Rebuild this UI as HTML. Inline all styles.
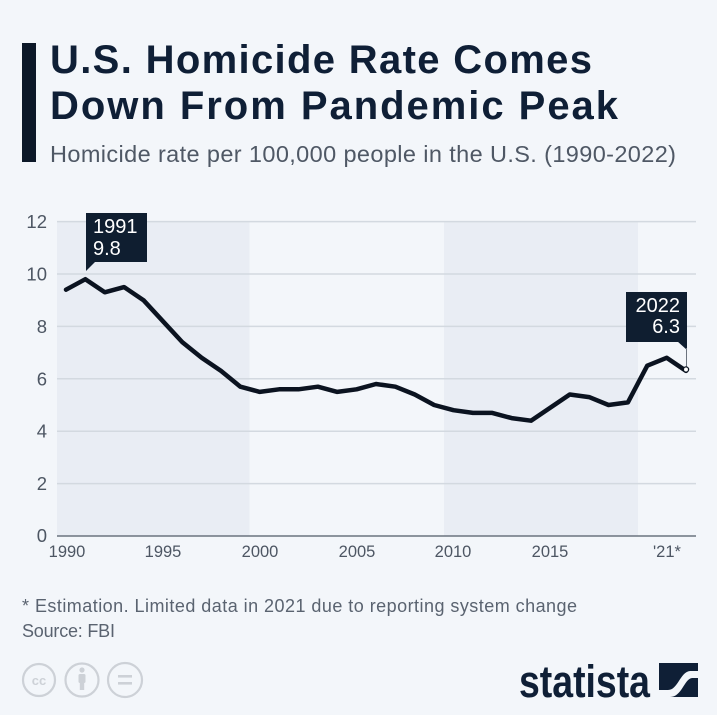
<!DOCTYPE html>
<html><head><meta charset="utf-8"><style>
html,body{margin:0;padding:0;background:#fff;}
svg{display:block;}
</style></head><body>
<svg width="720" height="720" viewBox="0 0 720 720" xmlns="http://www.w3.org/2000/svg">
<rect x="0" y="0" width="717" height="715" fill="#f3f6fa"/>
<!-- title -->
<rect x="22" y="43" width="14" height="119" fill="#0c1828"/>
<g font-family="Liberation Sans, sans-serif">
<text x="50" y="73" font-size="40" font-weight="bold" fill="#0f1f36" textLength="542" lengthAdjust="spacing">U.S. Homicide Rate Comes</text>
<text x="50" y="119" font-size="40" font-weight="bold" fill="#0f1f36" textLength="568" lengthAdjust="spacing">Down From Pandemic Peak</text>
<text x="50" y="162" font-size="23.5" fill="#4f5865" textLength="626" lengthAdjust="spacing">Homicide rate per 100,000 people in the U.S. (1990-2022)</text>
</g>
<!-- bands -->
<rect x="57" y="221.6" width="192.5" height="314.4" fill="#e9edf4"/>
<rect x="444" y="221.6" width="194" height="314.4" fill="#e9edf4"/>
<!-- gridlines -->
<g stroke="#d3d9e0" stroke-width="1.5">
<line x1="57" y1="221.6" x2="696" y2="221.6"/>
<line x1="57" y1="274" x2="696" y2="274"/>
<line x1="57" y1="326.4" x2="696" y2="326.4"/>
<line x1="57" y1="378.8" x2="696" y2="378.8"/>
<line x1="57" y1="431.2" x2="696" y2="431.2"/>
<line x1="57" y1="483.6" x2="696" y2="483.6"/>
</g>
<line x1="57" y1="536" x2="696" y2="536" stroke="#6b737e" stroke-width="1.5"/>
<!-- y labels -->
<g font-family="Liberation Sans, sans-serif" font-size="18.5" fill="#4d5663" text-anchor="end">
<text x="47" y="228">12</text>
<text x="47" y="280.5">10</text>
<text x="47" y="333">8</text>
<text x="47" y="385.5">6</text>
<text x="47" y="437.5">4</text>
<text x="47" y="490">2</text>
<text x="47" y="542">0</text>
</g>
<!-- x labels -->
<g font-family="Liberation Sans, sans-serif" font-size="16.5" fill="#4d5663" text-anchor="middle">
<text x="67" y="557">1990</text>
<text x="163" y="557">1995</text>
<text x="260" y="557">2000</text>
<text x="357" y="557">2005</text>
<text x="453" y="557">2010</text>
<text x="550" y="557">2015</text>
<text x="667" y="557">'21*</text>
</g>
<!-- line -->
<polyline fill="none" stroke="#0b1320" stroke-width="4.5" stroke-linejoin="round" stroke-linecap="round"
points="66,289.7 85.375,279.2 104.75,292.3 124.125,287.1 143.5,300.2 162.875,321.2 182.25,342.1 201.625,357.8 221,370.9 240.375,386.7 259.75,391.9 279.125,389.3 298.5,389.3 317.875,386.7 337.25,391.9 356.625,389.3 376,384 395.375,386.7 414.75,394.5 434.125,405 453.5,410.2 472.875,412.9 492.25,412.9 511.625,418.1 531,420.7 550.375,407.6 569.75,394.5 589.125,397.1 608.5,405 627.875,402.4 647.25,365.7 666.625,357.8 686,370.9"/>
<!-- annotation 1991 -->
<rect x="86" y="213" width="61" height="49" fill="#0f1e30"/>
<polygon points="86,261 86,271 96,261" fill="#0f1e30"/>
<g font-family="Liberation Sans, sans-serif" font-size="20" fill="#ffffff">
<text x="93" y="233">1991</text>
<text x="93" y="255">9.8</text>
</g>
<!-- annotation 2022 -->
<rect x="626" y="292" width="61" height="50" fill="#0f1e30"/>
<polygon points="687,341 687,350 677,341" fill="#0f1e30"/>
<line x1="686.5" y1="348" x2="686.5" y2="368" stroke="#6b737e" stroke-width="1"/>
<circle cx="686" cy="369.5" r="2.6" fill="#ffffff" stroke="#0b1320" stroke-width="1.3"/>
<g font-family="Liberation Sans, sans-serif" font-size="20" fill="#ffffff" text-anchor="end">
<text x="680" y="312">2022</text>
<text x="680" y="333">6.3</text>
</g>
<!-- footer -->
<g font-family="Liberation Sans, sans-serif" font-size="18" fill="#5a6370">
<text x="22" y="612" textLength="555" lengthAdjust="spacing">* Estimation. Limited data in 2021 due to reporting system change</text>
<text x="22" y="637" textLength="93" lengthAdjust="spacing">Source: FBI</text>
</g>
<!-- cc icons -->
<g fill="none" stroke="#cdd1d7" stroke-width="2.2">
<circle cx="39" cy="680" r="16"/>
<circle cx="82" cy="680" r="16.5"/>
<circle cx="125" cy="680" r="17"/>
</g>
<text x="39" y="685" font-family="Liberation Sans, sans-serif" font-size="13" font-weight="bold" fill="#cdd1d7" text-anchor="middle">cc</text>
<g fill="#cdd1d7">
<circle cx="82" cy="670" r="2.6"/>
<rect x="78.5" y="674" width="7" height="9" rx="1.5"/>
<rect x="79.8" y="682" width="4.4" height="8"/>
<rect x="118" y="675" width="14" height="2.6"/>
<rect x="118" y="682" width="14" height="2.6"/>
</g>
<!-- statista logo -->
<text x="519" y="697" font-family="Liberation Sans, sans-serif" font-size="45" font-weight="bold" fill="#0f1f36" textLength="131" lengthAdjust="spacingAndGlyphs">statista</text>
<rect x="659" y="663" width="39" height="34" fill="#0f1f36"/>
<path d="M659,690 L668,690 C678,690 680,672 690,671 L698,671 L698,678 L692,678 C684,679 682,697 670,697 L659,697 Z" fill="#f3f6fa"/>
</svg>
</body></html>
